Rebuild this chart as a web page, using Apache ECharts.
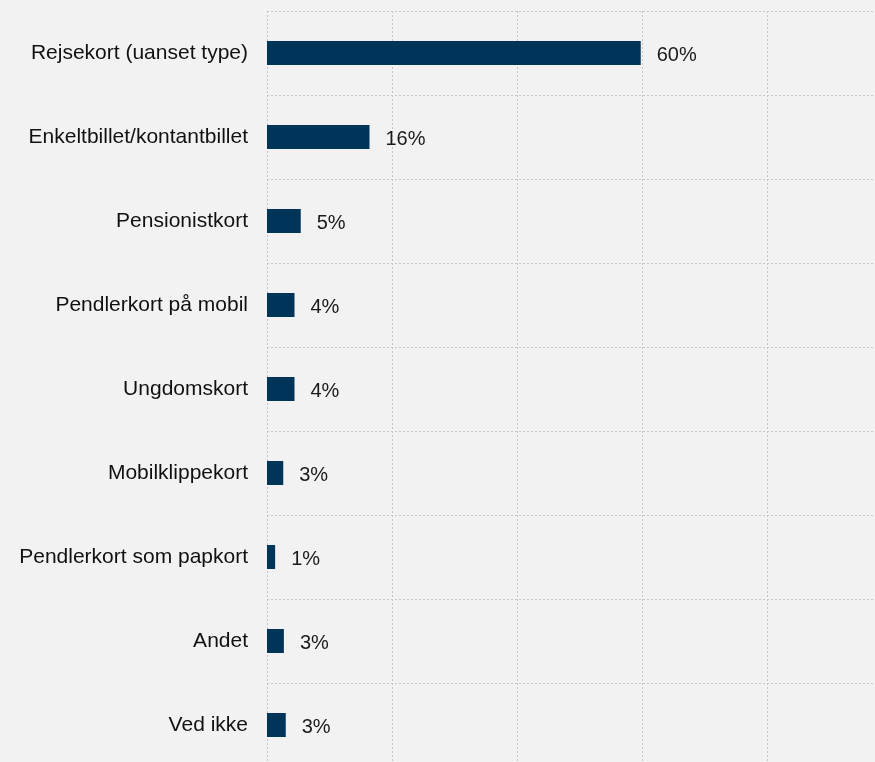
<!DOCTYPE html>
<html>
<head>
<meta charset="utf-8">
<script src="https://cdn.jsdelivr.net/npm/echarts@6/dist/echarts.min.js"></script>
<style>
html,body{margin:0;padding:0;background:#f2f2f2;overflow:hidden;}
#chart{width:900px;height:775px;}
</style>
</head>
<body>
<div id="chart"></div>
<script>
var categories = ["Rejsekort (uanset type)", "Enkeltbillet/kontantbillet", "Pensionistkort", "Pendlerkort på mobil", "Ungdomskort", "Mobilklippekort", "Pendlerkort som papkort", "Andet", "Ved ikke"];
var values = [59.8, 16.4, 5.4, 4.4, 4.4, 2.6, 1.3, 2.7, 3.0];
var xTicks = [0, 20, 40, 60, 80, 100];

var chart = echarts.init(document.getElementById('chart'));
var gridLine = {show: true, lineStyle: {color: '#c6c6c6', width: 1, type: [2, 2]}};
chart.setOption({
  backgroundColor: '#f2f2f2',
  animation: false,
  grid: {left: 267, top: 11, width: 625, height: 756, containLabel: false},
  xAxis: {
    type: 'value', min: xTicks[0], max: xTicks[xTicks.length - 1], interval: 20,
    axisLabel: {show: false}, axisLine: {show: false}, axisTick: {show: false},
    splitLine: gridLine
  },
  yAxis: {
    type: 'category', data: categories, inverse: true,
    axisLine: {show: false}, axisTick: {show: false},
    axisLabel: {margin: 19, color: '#111', fontFamily: 'Liberation Sans, Arial, sans-serif', fontSize: 21},
    splitLine: gridLine
  },
  series: [{
    type: 'bar', data: values, barWidth: 24,
    itemStyle: {color: '#003559'},
    label: {
      show: true, position: 'right', distance: 16, offset: [0, 2], color: '#1a1a1a',
      fontFamily: 'Liberation Sans, Arial, sans-serif', fontSize: 20,
      formatter: function (p) { return Math.round(p.value) + '%'; }
    }
  }]
});
</script>
</body>
</html>
